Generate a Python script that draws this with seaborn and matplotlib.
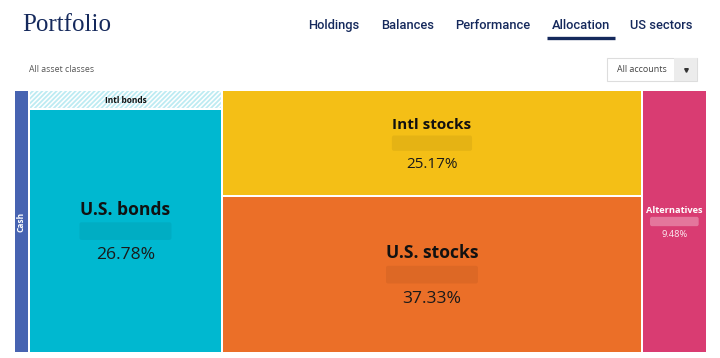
import matplotlib
matplotlib.use('Agg')
import matplotlib.pyplot as plt
from matplotlib.patches import Rectangle, FancyBboxPatch
import seaborn as sns

# allocation data
asset_classes = ['Cash', 'Intl bonds', 'U.S. bonds', 'Intl stocks', 'U.S. stocks', 'Alternatives']
allocation_pct = [0.55, 0.69, 26.78, 25.17, 37.33, 9.48]
column_group = [0, 1, 1, 2, 2, 3]
tile_colors = ['#4763b1', '#ffffff', '#00b8d0', '#f4bf16', '#eb6f28', '#d93c72']
label_colors = ['white', '#111111', '#111111', '#111111', '#111111', 'white']
nav_items = ['Holdings', 'Balances', 'Performance', 'Allocation', 'US sectors']
active_nav = 'Allocation'

sns.set_theme(style='white')
plt.rcParams['font.family'] = ['Open Sans', 'DejaVu Sans']
plt.rcParams['hatch.linewidth'] = 1.3

NAVY = '#15295c'

fig = plt.figure(figsize=(7.2, 3.58), dpi=100)
ax = fig.add_axes([0, 0, 1, 1])
ax.set_xlim(0, 720)
ax.set_ylim(358, 0)
ax.axis('off')

# header
ax.text(22, 25, 'Portfolio', family='Liberation Serif', fontsize=18, color=NAVY, va='center', ha='left')
nav_x = [334, 408, 493, 581, 661]
for name, x in zip(nav_items, nav_x):
    ax.text(x, 25.5, name, family='Roboto', fontsize=9.3, fontweight='medium', color=NAVY,
            ha='center', va='center')
    if name == active_nav:
        ax.plot([547, 615], [37.5, 37.5], color=NAVY, lw=2.4, solid_capstyle='butt')

ax.text(29, 69.5, 'All asset classes', fontsize=6.3, color='#555555', ha='left', va='center')
ax.add_patch(Rectangle((607, 58), 90, 23, facecolor='white', edgecolor='#dddddd', lw=0.8))
ax.add_patch(Rectangle((674, 58.4), 22.6, 22.2, facecolor='#ececec', edgecolor='none'))
ax.text(617, 70, 'All accounts', fontsize=6.4, color='#444444', ha='left', va='center')
ax.plot([686], [70], marker='v', color='#333333', markersize=2.6)

# treemap layout (small tiles get a minimum share so they stay visible)
x0, y0, width, height, gap = 15, 91, 691, 261, 2
layout_w = [max(v, 1.9) for v in allocation_pct]
n_cols = max(column_group) + 1
col_w = [sum(w for w, c in zip(layout_w, column_group) if c == k) for k in range(n_cols)]
avail_w = width - gap * (n_cols - 1)
cx = x0
for k in range(n_cols):
    cw = avail_w * col_w[k] / sum(col_w)
    idx = [i for i, c in enumerate(column_group) if c == k]
    avail_h = height - gap * (len(idx) - 1)
    cy = y0
    for i in idx:
        h = avail_h * layout_w[i] / col_w[k]
        name = asset_classes[i]
        if name == 'Intl bonds':
            ax.add_patch(Rectangle((cx, cy), cw, h, facecolor='white', edgecolor='#bdebf2',
                                   hatch='///////', lw=0))
        else:
            ax.add_patch(Rectangle((cx, cy), cw, h, facecolor=tile_colors[i], edgecolor='none'))
        mx, my = cx + cw / 2, cy + h / 2
        if name == 'Cash':
            ax.text(mx, cy + 131, name, rotation=90, fontsize=6, fontweight='bold',
                    color=label_colors[i], ha='center', va='center')
        elif name == 'Intl bonds':
            ax.text(mx, my + 1, name, fontsize=6, fontweight='bold',
                    color=label_colors[i], ha='center', va='center')
        else:
            fs = min(max(min(cw, h) / 9.5, 6.2), 12.6)
            ax.text(mx, my - fs * 1.72 + 0.5, name, fontsize=fs, fontweight='bold',
                    color=label_colors[i], ha='center', va='center')
            bw, bh = fs * 7.3, fs * 1.4
            shade = ('black', 0.06) if label_colors[i] != 'white' else ('white', 0.3)
            ax.add_patch(FancyBboxPatch((mx - bw / 2, my - bh / 2), bw, bh,
                                        boxstyle='round,pad=0,rounding_size=2',
                                        facecolor=shade[0], alpha=shade[1], edgecolor='none'))
            ax.text(mx, my + fs * 1.9, f'{allocation_pct[i]:.2f}%', fontsize=fs,
                    color=label_colors[i] if label_colors[i] == 'white' else '#1a1a1a',
                    alpha=0.9 if label_colors[i] == 'white' else 1,
                    ha='center', va='center')
        cy += h + gap
    cx += cw + gap

fig.savefig('out.png', dpi=100)
